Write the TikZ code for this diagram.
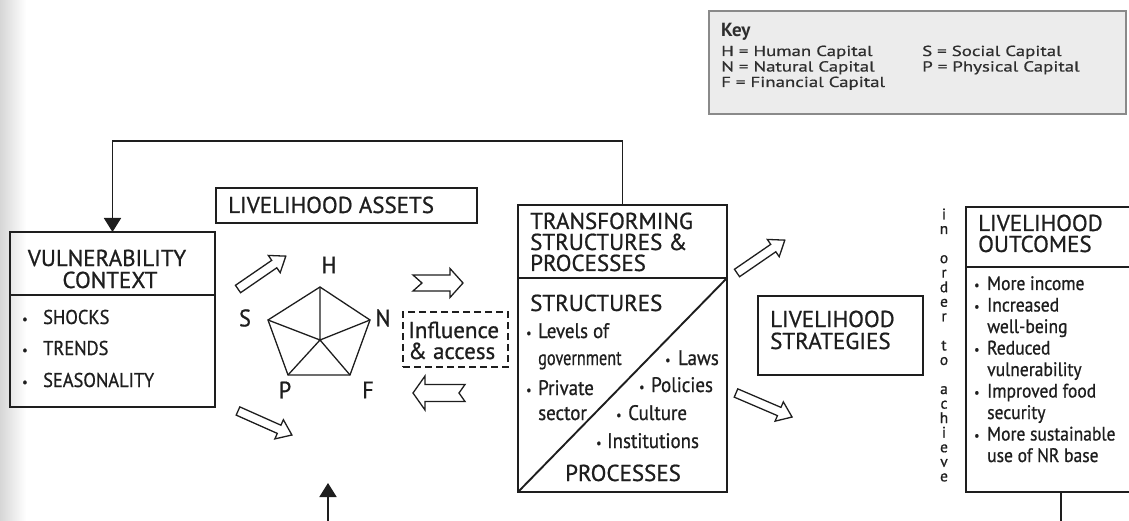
\documentclass[tikz,border=0pt]{standalone}
\usepackage{fontspec}
\setmainfont{PT Sans}
\newfontfamily\titlefont{PT Sans}[FakeBold=0.8]
\newfontfamily\capsfont{PT Sans}[FakeStretch=0.92,FakeBold=0.8]
\newfontfamily\bodyfont{PT Sans}[FakeStretch=0.9,FakeBold=0.8]
\newfontfamily\keyfont{PT Sans}[FakeStretch=1.3,FakeBold=0.6]
\newfontfamily\plainfont{PT Sans}[FakeBold=0.8]
\usetikzlibrary{arrows.meta,calc}

\definecolor{ink}{HTML}{1E1E1E}
\definecolor{keyink}{HTML}{2E2E2E}
\definecolor{keyfill}{HTML}{ECECEC}
\definecolor{keyline}{HTML}{8A8A8A}

% hollow block arrow: x, y (tail centre), angle, length, body half-width,
% head half-width, head length, tail notch depth
\newcommand\blockarr[8]{%
  \begin{scope}[shift={(#1,#2)}, rotate=#3]
    \draw[blockarrow] (0,-#5) -- ({#4-#7},-#5) -- ({#4-#7},-#6) -- (#4,0)
      -- ({#4-#7},#6) -- ({#4-#7},#5) -- (0,#5) -- (#8,0) -- cycle;
  \end{scope}}
\newcommand\bdot[1]{\makebox[#1][l]{\fontsize{13}{13}\selectfont\raisebox{0.5pt}{•}}}

\begin{document}
\begin{tikzpicture}[x=1pt,y=-1pt,
  ln/.style={draw=ink, line width=1.9pt},
  box/.style={ln, inner sep=0pt, outer sep=0pt, anchor=north west},
  blockarrow/.style={draw=ink, line width=1.3pt, fill=white, line join=miter},
  txt/.style={inner sep=0pt, anchor=base west, text=ink},
  title/.style={txt, font=\titlefont\fontsize{23}{24}\selectfont},
  caps/.style={txt, font=\capsfont\fontsize{20}{22}\selectfont},
  body/.style={txt, font=\bodyfont\fontsize{21}{22}\selectfont},
  outc/.style={txt, font=\bodyfont\fontsize{19.5}{22}\selectfont},
  letter/.style={inner sep=0pt, text=ink, font=\capsfont\fontsize{24}{24}\selectfont},
  keytxt/.style={inner sep=0pt, anchor=base west, text=keyink, font=\keyfont\fontsize{14.5}{15}\selectfont},
  fb/.style={ln, -{Triangle[width=17pt,length=14pt]}}
]
\useasboundingbox (0,0) rectangle (1129,521);
\clip (0,0) rectangle (1129,521);
% scanned page edge
\shade[left color=black!16, right color=white] (0,0) rectangle (26,521);

% ---- key ----
\node[draw=keyline, fill=keyfill, line width=1.6pt, inner sep=0pt, anchor=north west,
      minimum width=417pt, minimum height=103pt] (key) at (708,10) {};
\node[inner sep=0pt, anchor=base west, text=keyink, font=\bfseries\fontsize{19}{19}\selectfont] (keyhead) at (721,37) {Key};
\node[keytxt] (kh) at (721,56) {H = Human Capital};
\node[keytxt] (kn) at (721,71.5) {N = Natural Capital};
\node[keytxt] (kf) at (721,87) {F = Financial Capital};
\node[keytxt] (ks) at (922,56) {S = Social Capital};
\node[keytxt] (kp) at (922,71.5) {P = Physical Capital};

% ---- vulnerability context ----
\node[box, minimum width=205pt, minimum height=175pt] (vuln) at (10,232) {};
\draw[ln] (vuln.west |- 0,295) -- (vuln.east |- 0,295);
\node[title, anchor=base] (vt1) at (107,266) {VULNERABILITY};
\node[title, anchor=base] (vt2) at (110,288) {CONTEXT};
\node[caps] (v1) at (22,324) {\bdot{21pt}SHOCKS};
\node[caps] (v2) at (22,355) {\bdot{21pt}TRENDS};
\node[caps] (v3) at (22,387) {\bdot{21pt}SEASONALITY};

% ---- livelihood assets ----
\node[box, minimum width=261pt, minimum height=35pt] (assets) at (216,188) {};
\node[title] (assetst) at (228,213) {LIVELIHOOD ASSETS};

\coordinate (h) at (320,287);
\coordinate (n) at (370,320);
\coordinate (f) at (350,375);
\coordinate (p) at (288,375);
\coordinate (s) at (268,320);
\coordinate (c) at (320,340);
\draw[draw=ink, line width=1.3pt, line join=miter] (h) -- (n) -- (f) -- (p) -- (s) -- cycle;
\draw[draw=ink, line width=1.3pt] (c) -- (h) (c) -- (n) (c) -- (f) (c) -- (p) (c) -- (s);
\node[letter] (lh) at (329,265) {H};
\node[letter] (ls) at (245,318) {S};
\node[letter] (lnn) at (383,318) {N};
\node[letter] (lp) at (285,390) {P};
\node[letter] (lf) at (368,390) {F};

\blockarr{238}{289}{34.5}{58}{4.5}{10.5}{14}{0}
\blockarr{238}{411}{-24}{59}{4.5}{10.5}{14}{0}

% ---- influence & access ----
\blockarr{413}{283}{0}{50}{8}{14.5}{13}{9}
\blockarr{465}{393}{180}{52}{8.5}{17}{12}{6}
\node[box, dash pattern=on 7pt off 4pt, minimum width=105pt, minimum height=55pt] (infl) at (403,312) {};
\node[txt, font=\plainfont\fontsize{23}{23}\selectfont] (i1) at (408,338) {Influence};
\node[txt, font=\plainfont\fontsize{23}{23}\selectfont] (i2) at (408,359) {\&\ access};

% ---- transforming structures & processes ----
\node[box, minimum width=209pt, minimum height=287pt] (trans) at (518,205) {};
\draw[ln] (trans.west |- 0,278) -- (trans.east |- 0,278);
\draw[ln] (trans.south west) -- (trans.east |- 0,278);
\node[title] (tt1) at (530,229) {TRANSFORMING};
\node[title] (tt2) at (530,250) {STRUCTURES \&};
\node[title] (tt3) at (530,271) {PROCESSES};
\node[title] (tstr) at (530,311) {STRUCTURES};
\node[title, anchor=base] (tproc) at (623,481) {PROCESSES};
\node[body] (s1) at (526,338) {\bdot{12pt}Levels of};
\node[body] (s1b) at (538,365) {\scalebox{0.86}[1]{government}};
\node[body] (s2) at (526,395) {\bdot{12pt}Private};
\node[body] (s2b) at (538,420) {sector};
\node[body] (p1) at (665,365) {\bdot{13pt}Laws};
\node[body] (p2) at (639,392) {\bdot{12pt}Policies};
\node[body] (p3) at (616,420) {\bdot{12pt}Culture};
\node[body] (p4) at (596,448) {\bdot{11pt}Institutions};

\blockarr{737}{273}{34.5}{58}{4.5}{10.5}{14}{0}
\blockarr{736}{393}{-23.2}{61}{4.5}{10.5}{14}{0}

% ---- livelihood strategies ----
\node[box, minimum width=165pt, minimum height=79pt] (strat) at (758,296) {};
\node[title] (st1) at (770,327) {LIVELIHOOD};
\node[title] (st2) at (770,349) {STRATEGIES};

\node[inner sep=0pt, text=ink, align=center, font=\plainfont\fontsize{15.5}{14.55}\selectfont] (achieve)
  at (944,345) {i\\n\\~\\o\\r\\d\\e\\r\\~\\t\\o\\~\\a\\c\\h\\i\\e\\v\\e};

% ---- livelihood outcomes ----
\node[box, minimum width=180pt, minimum height=285pt] (outc) at (966,207) {};
\draw[ln] (outc.west |- 0,267) -- (outc.east |- 0,267);
\node[title] (ot1) at (978,231) {LIVELIHOOD};
\node[title] (ot2) at (978,252) {OUTCOMES};
\node[outc] (o1) at (974,290) {\bdot{13pt}More income};
\node[outc] (o2) at (974,311.5) {\bdot{13pt}Increased};
\node[outc] (o2b) at (987,333) {well-being};
\node[outc] (o3) at (974,354.5) {\bdot{13pt}Reduced};
\node[outc] (o3b) at (987,376) {vulnerability};
\node[outc] (o4) at (974,397.5) {\bdot{13pt}Improved food};
\node[outc] (o4b) at (987,419) {security};
\node[outc] (o5) at (974,440.5) {\bdot{13pt}More sustainable};
\node[outc] (o5b) at (987,462) {use of NR base};

% ---- feedback connectors ----
\coordinate (fbtop) at (0,141);
\draw[fb] (trans.north) -- (trans.north |- fbtop) -| (vuln.north);
\coordinate (outfoot) at (1061,492);
\coordinate (outexit) at (1061,530);
\draw[ln] (outfoot) -- (outexit);
\coordinate (assetsentry) at (328,530);
\coordinate (assetsfoot) at (328,483);
\draw[fb] (assetsentry) -- (assetsfoot);
\end{tikzpicture}
\end{document}
